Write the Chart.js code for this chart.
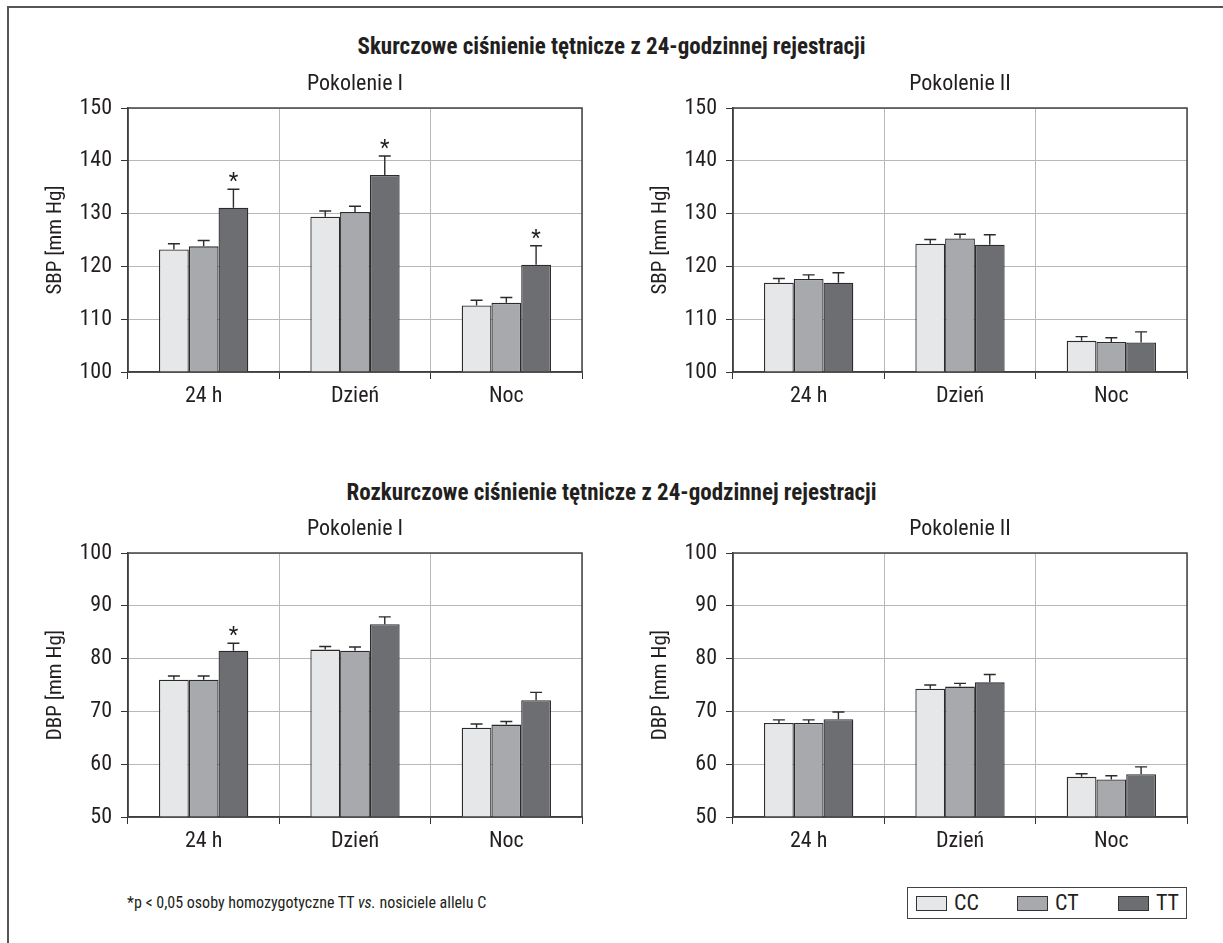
<!DOCTYPE html>
<html>
<head>
<meta charset="utf-8">
<script src="https://cdn.jsdelivr.net/npm/chart.js@4.4.1/dist/chart.umd.min.js"></script>
<style>
  html, body { margin: 0; padding: 0; background: #fff; width: 1223px; height: 943px; overflow: hidden; }
  body { position: relative; font-family: "Liberation Sans Narrow", "Roboto Condensed", "DejaVu Sans Condensed", "Arial Narrow", sans-serif; color: #231f20; }
  .frame { position: absolute; left: 7px; top: 6px; width: 1240px; height: 1000px; border: 2px solid #555; }
  canvas { position: absolute; }
  .head { position: absolute; left: 0; width: 1223px; text-align: center; font-weight: bold; font-size: 23px; line-height: 26px; }
  .note { position: absolute; left: 127px; top: 893px; font-size: 16px; line-height: 20px; }
  .legend { position: absolute; left: 907px; top: 887px; width: 278px; height: 30px; border: 1.5px solid #444; }
  .legend span.sw { position: absolute; top: 8px; width: 29px; height: 13px; border: 1px solid #333; }
  .legend span.lb { position: absolute; top: 2px; font-size: 22px; line-height: 26px; }
</style>
</head>
<body>
<div class="frame"></div>
<div class="head" style="top:34px">Skurczowe ciśnienie tętnicze z 24-godzinnej rejestracji</div>
<div class="head" style="top:480px">Rozkurczowe ciśnienie tętnicze z 24-godzinnej rejestracji</div>
<canvas id="c1" width="548" height="350"></canvas>
<canvas id="c2" width="548" height="350"></canvas>
<canvas id="c3" width="548" height="350"></canvas>
<canvas id="c4" width="548" height="350"></canvas>
<div class="note">*p &lt; 0,05 osoby homozygotyczne TT <i>vs.</i> nosiciele allelu C</div>
<div class="legend" id="legend"></div>
<script>
// categories and groups
var categories = ['24 h', 'Dzień', 'Noc'];
var genotypes = ['CC', 'CT', 'TT'];
var genoColors = ['#e6e7e8', '#a7a9ac', '#6d6e71'];

// SBP, pokolenie I
var sbp1CC = [123.2, 129.4, 112.6];
var sbp1CT = [123.8, 130.3, 113.1];
var sbp1TT = [131.1, 137.3, 120.3];
var sbp1CCErr = [1.1, 1.1, 1.0];
var sbp1CTErr = [1.1, 1.1, 1.0];
var sbp1TTErr = [3.5, 3.6, 3.6];
var sbp1Stars = [true, true, true];

// SBP, pokolenie II
var sbp2CC = [116.9, 124.3, 105.9];
var sbp2CT = [117.6, 125.3, 105.7];
var sbp2TT = [116.9, 124.1, 105.6];
var sbp2CCErr = [0.8, 0.8, 0.8];
var sbp2CTErr = [0.8, 0.8, 0.8];
var sbp2TTErr = [1.9, 1.9, 2.0];
var sbp2Stars = [false, false, false];

// DBP, pokolenie I
var dbp1CC = [76.0, 81.7, 66.9];
var dbp1CT = [76.0, 81.5, 67.5];
var dbp1TT = [81.5, 86.5, 72.1];
var dbp1CCErr = [0.7, 0.6, 0.7];
var dbp1CTErr = [0.7, 0.7, 0.6];
var dbp1TTErr = [1.4, 1.4, 1.5];
var dbp1Stars = [true, false, false];

// DBP, pokolenie II
var dbp2CC = [67.8, 74.3, 57.6];
var dbp2CT = [67.8, 74.7, 57.1];
var dbp2TT = [68.5, 75.5, 58.1];
var dbp2CCErr = [0.6, 0.7, 0.6];
var dbp2CTErr = [0.6, 0.6, 0.7];
var dbp2TTErr = [1.4, 1.5, 1.4];
var dbp2Stars = [false, false, false];

var sbpTicks = [100, 150, 10];
var dbpTicks = [50, 100, 10];

var FONT = '"Liberation Sans Narrow", "Roboto Condensed", "DejaVu Sans Condensed", "Arial Narrow", sans-serif';
var INK = '#231f20';

// error bars (upward only) + asterisks over TT
var errorBars = {
    id: 'errorBars',
    afterDatasetsDraw: function (chart) {
        var ctx = chart.ctx;
        var y = chart.scales.y;
        ctx.save();
        ctx.strokeStyle = '#2b2b2b';
        ctx.lineWidth = 1.4;
        chart.data.datasets.forEach(function (ds, di) {
            var meta = chart.getDatasetMeta(di);
            meta.data.forEach(function (bar, i) {
                var top = y.getPixelForValue(ds.data[i] + ds.errors[i]);
                ctx.beginPath();
                ctx.moveTo(bar.x, bar.y);
                ctx.lineTo(bar.x, top);
                ctx.moveTo(bar.x - 6, top);
                ctx.lineTo(bar.x + 6, top);
                ctx.stroke();
                if (ds.stars && ds.stars[i]) {
                    ctx.fillStyle = INK;
                    ctx.font = '22px ' + FONT;
                    ctx.textAlign = 'center';
                    ctx.textBaseline = 'alphabetic';
                    ctx.fillText('*', bar.x, top - 1);
                }
            });
        });
        // dark frame round the plot
        var a = chart.chartArea;
        ctx.strokeStyle = '#444';
        ctx.lineWidth = 1.5;
        ctx.strokeRect(a.left, a.top, a.right - a.left, a.bottom - a.top);
        ctx.restore();
    }
};

function makeChart(id, plotLeft, plotTop, title, yTitle, cc, ct, tt, errs, stars, ticks) {
    var cv = document.getElementById(id);
    cv.style.left = (plotLeft - 88) + 'px';
    cv.style.top = (plotTop - 38) + 'px';
    var series = [cc, ct, tt];
    var datasets = genotypes.map(function (g, k) {
        return {
            label: g,
            data: series[k],
            errors: errs[k],
            stars: k === 2 ? stars : null,
            backgroundColor: genoColors[k],
            borderColor: '#2b2b2b',
            borderWidth: 1.3,
            barPercentage: 1,
            categoryPercentage: 0.59
        };
    });
    new Chart(cv, {
        type: 'bar',
        data: { labels: categories, datasets: datasets },
        options: {
            responsive: false,
            animation: false,
            layout: { padding: { left: 3, top: 1, right: 6, bottom: 0 } },
            plugins: {
                legend: { display: false },
                tooltip: { enabled: false },
                title: {
                    display: true,
                    fullSize: false,
                    text: title,
                    color: INK,
                    font: { family: FONT, size: 22, weight: 'normal', lineHeight: 1.2 },
                    padding: { top: 0, bottom: 10.6 }
                }
            },
            scales: {
                x: {
                    grid: { color: '#b8b8b8', tickColor: '#333', tickLength: 7, lineWidth: 1 },
                    border: { color: '#333', width: 1.5 },
                    ticks: { color: INK, font: { family: FONT, size: 22 }, padding: 4 },
                    afterFit: function (s) { s.height = 48; }
                },
                y: {
                    min: ticks[0],
                    max: ticks[1],
                    grid: { color: '#b8b8b8', tickColor: '#333', tickLength: 7, lineWidth: 1 },
                    border: { color: '#333', width: 1.5 },
                    ticks: { stepSize: ticks[2], color: INK, font: { family: FONT, size: 22 }, padding: 9 },
                    title: {
                        display: true,
                        text: yTitle,
                        color: INK,
                        font: { family: FONT, size: 21, lineHeight: 1.2 },
                        padding: 0
                    },
                    afterFit: function (s) { s.width = 85; }
                }
            }
        },
        plugins: [errorBars]
    });
}

makeChart('c1', 128, 108, 'Pokolenie I', 'SBP [mm Hg]', sbp1CC, sbp1CT, sbp1TT,
    [sbp1CCErr, sbp1CTErr, sbp1TTErr], sbp1Stars, sbpTicks);
makeChart('c2', 733, 108, 'Pokolenie II', 'SBP [mm Hg]', sbp2CC, sbp2CT, sbp2TT,
    [sbp2CCErr, sbp2CTErr, sbp2TTErr], sbp2Stars, sbpTicks);
makeChart('c3', 128, 553, 'Pokolenie I', 'DBP [mm Hg]', dbp1CC, dbp1CT, dbp1TT,
    [dbp1CCErr, dbp1CTErr, dbp1TTErr], dbp1Stars, dbpTicks);
makeChart('c4', 733, 553, 'Pokolenie II', 'DBP [mm Hg]', dbp2CC, dbp2CT, dbp2TT,
    [dbp2CCErr, dbp2CTErr, dbp2TTErr], dbp2Stars, dbpTicks);

// shared legend
var legend = document.getElementById('legend');
var itemX = [8, 109, 210];
genotypes.forEach(function (g, k) {
    var sw = document.createElement('span');
    sw.className = 'sw';
    sw.style.left = itemX[k] + 'px';
    sw.style.background = genoColors[k];
    legend.appendChild(sw);
    var lb = document.createElement('span');
    lb.className = 'lb';
    lb.style.left = (itemX[k] + 38) + 'px';
    lb.textContent = g;
    legend.appendChild(lb);
});
</script>
</body>
</html>
